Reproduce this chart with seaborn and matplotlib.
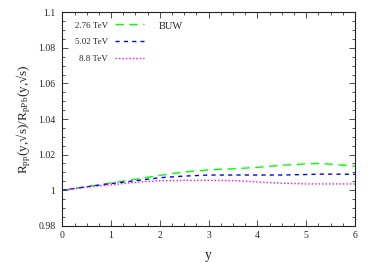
import numpy as np
import pandas as pd
import matplotlib
matplotlib.use("Agg")
import matplotlib.pyplot as plt
from matplotlib.ticker import MultipleLocator
import seaborn as sns

# Data
y_vals = [0.0, 0.5, 1.0, 1.5, 2.0, 2.5, 3.0, 3.5, 4.0, 4.5, 5.0, 5.3, 5.5, 6.0]
r_276 = [1.0, 1.0020, 1.0040, 1.0061, 1.0083, 1.0102, 1.0114, 1.0120, 1.0128, 1.0140, 1.0148, 1.0150, 1.0146, 1.0135]
r_502 = [1.0, 1.0019, 1.0037, 1.0053, 1.0070, 1.0079, 1.0085, 1.0085, 1.0085, 1.0085, 1.0088, 1.0090, 1.0090, 1.0089]
r_88 = [1.0, 1.0017, 1.0030, 1.0044, 1.0053, 1.0055, 1.0055, 1.0054, 1.0046, 1.0039, 1.0035, 1.0035, 1.0035, 1.0035]
labels = ["2.76 TeV", "5.02 TeV", "8.8 TeV"]
colors = ["#00ff00", "#0000ff", "#ff00ff"]
dash_styles = [(0, (6, 4)), (0, (3, 3)), (0, (1, 1.5))]
x_ticks = [0, 1, 2, 3, 4, 5, 6]
y_ticks = [0.98, 1.0, 1.02, 1.04, 1.06, 1.08, 1.1]
y_tick_labels = ["0.98", "1", "1.02", "1.04", "1.06", "1.08", "1.1"]

sns.set_style("ticks")
plt.rcParams["font.family"] = ["Liberation Serif", "DejaVu Serif"]
plt.rcParams["mathtext.fontset"] = "custom"
plt.rcParams["mathtext.rm"] = "Liberation Serif"
plt.rcParams["mathtext.it"] = "Liberation Serif"

fig = plt.figure(figsize=(3.74, 2.62), dpi=100)
ax = fig.add_axes([0.1666, 0.1385, 0.7824, 0.8145])

df = pd.DataFrame({"y": y_vals * 3,
                   "r": r_276 + r_502 + r_88,
                   "s": [labels[0]] * len(y_vals) + [labels[1]] * len(y_vals) + [labels[2]] * len(y_vals)})
for lab, c, ds in zip(labels, colors, dash_styles):
    sub = df[df["s"] == lab]
    sns.lineplot(data=sub, x="y", y="r", ax=ax, color=c, linewidth=1.0, label=lab)
    ax.lines[-1].set_linestyle(ds)

ax.set_xlim(0, 6)
ax.set_ylim(0.98, 1.1)
ax.set_xticks(x_ticks)
ax.set_xticklabels([str(t) for t in x_ticks])
ax.set_yticks(y_ticks)
ax.set_yticklabels(y_tick_labels)
ax.xaxis.set_minor_locator(MultipleLocator(0.25))
ax.yaxis.set_minor_locator(MultipleLocator(0.005))
ax.tick_params(which="both", direction="in", top=True, right=True, labelsize=7, width=0.6, color="#333333")
ax.tick_params(which="major", length=4, pad=4)
ax.tick_params(which="minor", length=2)
ax.tick_params(axis="y", pad=5)
for sp in ax.spines.values():
    sp.set_linewidth(0.8)
    sp.set_color("#222222")

ax.set_xlabel("y", fontsize=10, labelpad=6)
ax.set_ylabel("R$_{\\mathrm{pp}}$(y,\u221as)/R$_{\\mathrm{pPb}}$(y,\u221as)", fontsize=9.5, labelpad=4)

leg = ax.legend(loc="upper left", markerfirst=False, frameon=False, fontsize=6.5,
                handlelength=3.3, labelspacing=0.95, handletextpad=0.75,
                borderaxespad=0.0, bbox_to_anchor=(0.03, 0.975))
ax.text(1.98, 1.0918, "BUW", fontsize=7.5, va="center", ha="left")

fig.savefig("out.png", dpi=100)
